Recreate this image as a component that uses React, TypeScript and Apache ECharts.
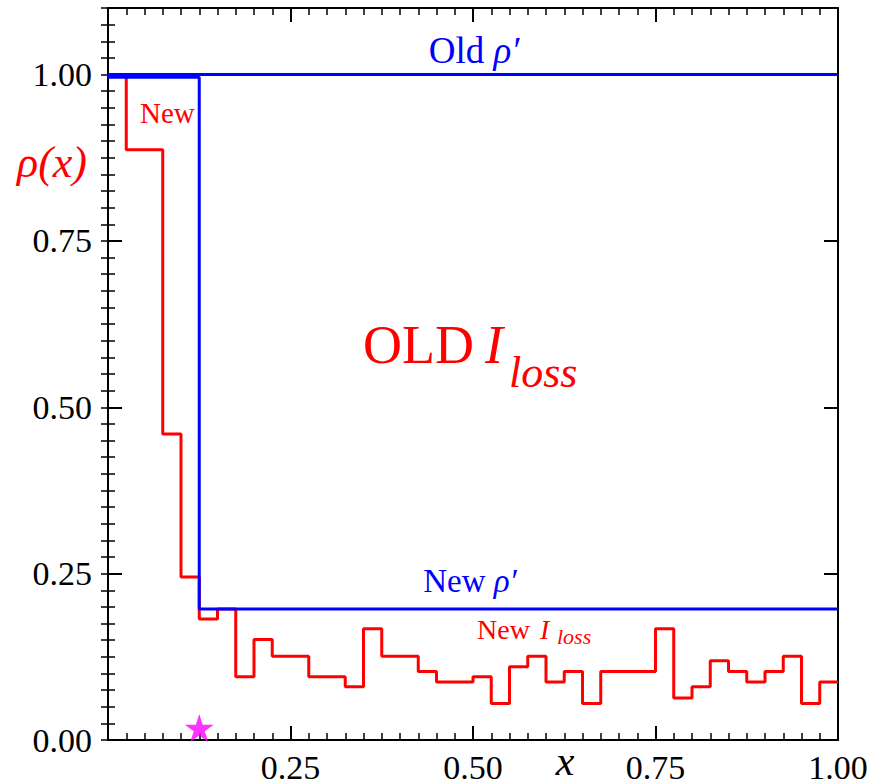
import React, { useEffect, useRef } from "react";
import * as echarts from "echarts";

// ---- data ----
const redEdges = [0, 0.025, 0.075, 0.1, 0.125, 0.15, 0.175, 0.2, 0.225, 0.275, 0.325, 0.35, 0.375, 0.425, 0.45, 0.5, 0.525, 0.55, 0.575, 0.6, 0.625, 0.65, 0.675, 0.75, 0.775, 0.8, 0.825, 0.85, 0.875, 0.9, 0.925, 0.95, 0.975, 1.0];
const redValues = [1.0, 0.887, 0.46, 0.245, 0.182, 0.197, 0.095, 0.151, 0.126, 0.095, 0.08, 0.167, 0.126, 0.103, 0.087, 0.095, 0.055, 0.11, 0.126, 0.087, 0.103, 0.055, 0.103, 0.167, 0.063, 0.08, 0.119, 0.103, 0.087, 0.103, 0.126, 0.055, 0.087, 0.087];
const newRhoX = [0, 0.125, 1.0];
const newRhoY = [0.996, 0.197, 0.197];
const oldRhoX = [0, 1.0];
const oldRhoY = [1.0, 1.0];
const starPoint = [0.125, 0.018];
const xTicks = [0.25, 0.5, 0.75, 1.0];
const yTicks = [0, 0.25, 0.5, 0.75, 1.0];

const FONT = "'Liberation Serif', 'Times New Roman', serif";
const RED = "#ff0000";
const BLUE = "#0000ff";
const STAR =
  "path://M50 0 L61.17 34.63 L97.55 34.55 L68.07 55.87 L79.39 90.45 L50 69 L20.61 90.45 L31.93 55.87 L2.45 34.55 L38.83 34.63 Z";

function pairs(xs: number[], ys: number[]) {
  return xs.map((x, i) => [x, ys[i]]);
}

export default function App() {
  const ref = useRef<HTMLDivElement>(null);
  useEffect(() => {
    document.body.style.margin = "0";
    if (!ref.current) return;
    const chart = echarts.init(ref.current, undefined, { renderer: "svg" });
    const fmtX = (v: number) => (xTicks.some((t) => Math.abs(t - v) < 1e-6) ? v.toFixed(2) : "");
    const fmtY = (v: number) => (yTicks.some((t) => Math.abs(t - v) < 1e-6) ? v.toFixed(2) : "");
    const majorTick = { show: true, inside: true, length: 14, lineStyle: { color: "#000", width: 2 } };
    const minorTick = { show: true, splitNumber: 10, length: 7, lineStyle: { color: "#000", width: 1.5 } };
    const axisLine = { show: true, onZero: false, lineStyle: { color: "#000", width: 2 } };
    const labelStyle = { fontFamily: FONT, fontSize: 34, color: "#000" };
    const xBase = {
      type: "value" as const,
      min: 0,
      max: 1,
      interval: 0.25,
      axisLine,
      axisTick: majorTick,
      minorTick,
      splitLine: { show: false },
      minorSplitLine: { show: false },
    };
    const yMajor = {
      type: "value" as const,
      min: 0,
      max: 1.1,
      interval: 0.25,
      axisLine,
      axisTick: majorTick,
      splitLine: { show: false },
    };
    const yMinor = {
      type: "value" as const,
      min: 0,
      max: 1.1,
      interval: 0.025,
      axisLine: { show: false },
      axisTick: { show: true, inside: true, length: 7, lineStyle: { color: "#000", width: 1.5 } },
      axisLabel: { show: false },
      splitLine: { show: false },
    };
    const option: any = {
      animation: false,
      textStyle: { fontFamily: FONT },
      grid: { left: 108, right: 33, top: 8, bottom: 44, containLabel: false, outerBoundsMode: "none" },
      xAxis: [
        { ...xBase, position: "bottom", axisLabel: { ...labelStyle, margin: 10, formatter: fmtX } },
        { ...xBase, position: "top", axisLabel: { show: false } },
      ],
      yAxis: [
        { ...yMajor, position: "left", axisLabel: { ...labelStyle, margin: 16, formatter: fmtY } },
        { ...yMinor, position: "left" },
        { ...yMajor, position: "right", axisLabel: { show: false } },
        { ...yMinor, position: "right" },
      ],
      series: [
        {
          type: "line",
          name: "New I_loss",
          step: "end",
          data: pairs(redEdges, redValues),
          showSymbol: false,
          lineStyle: { color: RED, width: 3 },
          z: 2,
        },
        {
          type: "line",
          name: "Old rho'",
          data: pairs(oldRhoX, oldRhoY),
          showSymbol: false,
          lineStyle: { color: BLUE, width: 3 },
          z: 3,
        },
        {
          type: "line",
          name: "New rho'",
          step: "end",
          data: pairs(newRhoX, newRhoY),
          showSymbol: false,
          lineStyle: { color: BLUE, width: 3 },
          z: 3,
        },
        {
          type: "scatter",
          data: [starPoint],
          symbol: STAR,
          symbolSize: [29, 28],
          itemStyle: { color: "#ff00ff" },
          z: 4,
        },
      ],
      graphic: [
        {
          type: "text",
          x: 474,
          y: 50,
          style: {
            text: "{a|Old }{b|ρ′}",
            align: "center",
            verticalAlign: "middle",
            rich: {
              a: { fontFamily: FONT, fontSize: 37, fill: BLUE },
              b: { fontFamily: FONT, fontSize: 37, fontStyle: "italic", fill: BLUE },
            },
          },
        },
        {
          type: "text",
          x: 470,
          y: 581,
          style: {
            text: "{a|New }{b|ρ′}",
            align: "center",
            verticalAlign: "middle",
            rich: {
              a: { fontFamily: FONT, fontSize: 33, fill: BLUE },
              b: { fontFamily: FONT, fontSize: 33, fontStyle: "italic", fill: BLUE },
            },
          },
        },
        {
          type: "text",
          x: 140,
          y: 113,
          style: { text: "New", fontFamily: FONT, fontSize: 29, fill: RED, align: "left", verticalAlign: "middle" },
        },
        {
          type: "text",
          x: 52,
          y: 162,
          style: { text: "ρ(x)", fontFamily: FONT, fontSize: 44, fontStyle: "italic", fill: RED, align: "center", verticalAlign: "middle" },
        },
        {
          type: "text",
          x: 565,
          y: 761,
          style: { text: "x", fontFamily: FONT, fontSize: 42, fontStyle: "italic", fill: "#000", align: "center", verticalAlign: "middle" },
        },
        {
          type: "text",
          x: 363,
          y: 345,
          style: { text: "OLD", fontFamily: FONT, fontSize: 54, fill: RED, align: "left", verticalAlign: "middle" },
        },
        {
          type: "text",
          x: 485,
          y: 345,
          style: { text: "I", fontFamily: FONT, fontSize: 54, fontStyle: "italic", fill: RED, align: "left", verticalAlign: "middle" },
        },
        {
          type: "text",
          x: 509,
          y: 372,
          style: { text: "loss", fontFamily: FONT, fontSize: 44, fontStyle: "italic", fill: RED, align: "left", verticalAlign: "middle" },
        },
        {
          type: "text",
          x: 477,
          y: 629,
          style: { text: "New", fontFamily: FONT, fontSize: 28, fill: RED, align: "left", verticalAlign: "middle" },
        },
        {
          type: "text",
          x: 540,
          y: 629,
          style: { text: "I", fontFamily: FONT, fontSize: 28, fontStyle: "italic", fill: RED, align: "left", verticalAlign: "middle" },
        },
        {
          type: "text",
          x: 557,
          y: 636,
          style: { text: "loss", fontFamily: FONT, fontSize: 22, fontStyle: "italic", fill: RED, align: "left", verticalAlign: "middle" },
        },
      ],
    };
    chart.setOption(option);
    return () => chart.dispose();
  }, []);
  return <div ref={ref} style={{ width: 871, height: 784 }} />;
}
